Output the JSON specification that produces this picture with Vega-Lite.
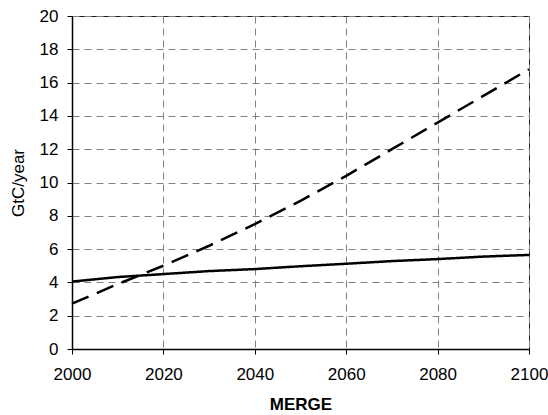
{
  "$schema": "https://vega.github.io/schema/vega-lite/v6.json",
  "autosize": "none",
  "width": 457,
  "height": 333,
  "padding": {"left": 72, "top": 16, "right": 19, "bottom": 66},
  "background": "white",
  "config": {
    "font": "Liberation Sans",
    "view": {"stroke": "#222", "strokeWidth": 1},
    "axis": {
      "domainColor": "black",
      "domainWidth": 1.5,
      "tickColor": "black",
      "tickSize": 5,
      "labelFont": "Liberation Sans",
      "labelFontSize": 17,
      "labelColor": "black",
      "titleFont": "Liberation Sans",
      "titleColor": "black",
      "gridColor": "#808080",
      "gridDash": [7, 5],
      "gridWidth": 1,
      "gridOpacity": 1
    }
  },
  "data": {
    "values": [
      {"year": 2000, "v": 4.05, "s": "a"},
      {"year": 2010, "v": 4.32, "s": "a"},
      {"year": 2020, "v": 4.5, "s": "a"},
      {"year": 2030, "v": 4.68, "s": "a"},
      {"year": 2040, "v": 4.8, "s": "a"},
      {"year": 2050, "v": 4.97, "s": "a"},
      {"year": 2060, "v": 5.12, "s": "a"},
      {"year": 2070, "v": 5.28, "s": "a"},
      {"year": 2080, "v": 5.4, "s": "a"},
      {"year": 2090, "v": 5.55, "s": "a"},
      {"year": 2100, "v": 5.65, "s": "a"},
      {"year": 2000, "v": 2.72, "s": "b"},
      {"year": 2010, "v": 3.9, "s": "b"},
      {"year": 2020, "v": 5.0, "s": "b"},
      {"year": 2030, "v": 6.2, "s": "b"},
      {"year": 2040, "v": 7.5, "s": "b"},
      {"year": 2050, "v": 8.9, "s": "b"},
      {"year": 2060, "v": 10.4, "s": "b"},
      {"year": 2070, "v": 12.0, "s": "b"},
      {"year": 2080, "v": 13.6, "s": "b"},
      {"year": 2090, "v": 15.2, "s": "b"},
      {"year": 2100, "v": 16.8, "s": "b"}
    ]
  },
  "mark": {"type": "line", "color": "black", "strokeWidth": 2.5},
  "encoding": {
    "x": {
      "field": "year",
      "type": "quantitative",
      "scale": {"domain": [2000, 2100], "nice": false, "zero": false},
      "axis": {
        "values": [2000, 2020, 2040, 2060, 2080, 2100],
        "format": "d",
        "title": "MERGE",
        "titleFontSize": 17,
        "titleFontWeight": "bold",
        "titlePadding": 14,
        "labelPadding": 12,
        "grid": true,
        "labelFlush": false
      }
    },
    "y": {
      "field": "v",
      "type": "quantitative",
      "scale": {"domain": [0, 20], "nice": false},
      "axis": {
        "values": [0, 2, 4, 6, 8, 10, 12, 14, 16, 18, 20],
        "title": "GtC/year",
        "titleFontSize": 17,
        "titleFontWeight": "normal",
        "titlePadding": 12,
        "labelPadding": 9,
        "grid": true
      }
    },
    "strokeDash": {
      "field": "s",
      "type": "nominal",
      "scale": {"domain": ["a", "b"], "range": [[1, 0], [18, 9]]},
      "legend": null
    }
  }
}
